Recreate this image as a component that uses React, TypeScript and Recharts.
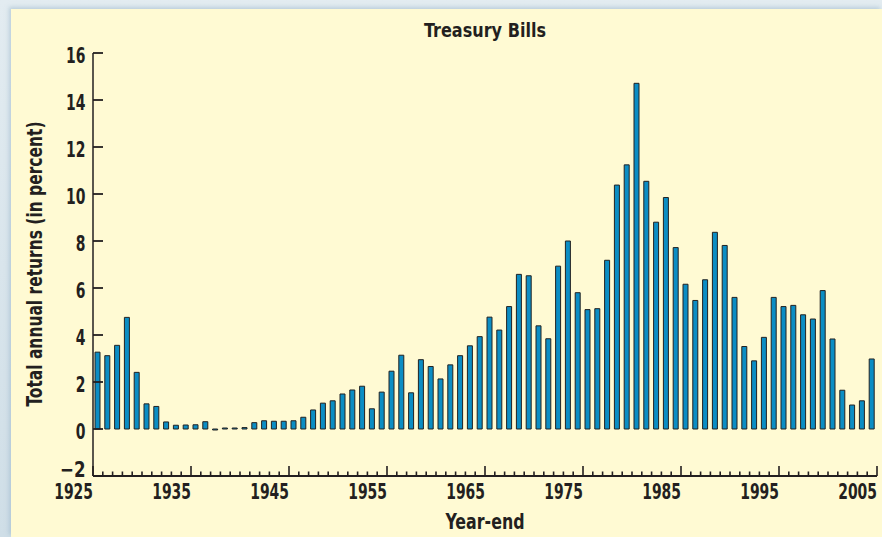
import { BarChart, Bar, XAxis, YAxis } from 'recharts';

const years = [
  1926, 1927, 1928, 1929, 1930, 1931, 1932, 1933, 1934, 1935,
  1936, 1937, 1938, 1939, 1940, 1941, 1942, 1943, 1944, 1945,
  1946, 1947, 1948, 1949, 1950, 1951, 1952, 1953, 1954, 1955,
  1956, 1957, 1958, 1959, 1960, 1961, 1962, 1963, 1964, 1965,
  1966, 1967, 1968, 1969, 1970, 1971, 1972, 1973, 1974, 1975,
  1976, 1977, 1978, 1979, 1980, 1981, 1982, 1983, 1984, 1985,
  1986, 1987, 1988, 1989, 1990, 1991, 1992, 1993, 1994, 1995,
  1996, 1997, 1998, 1999, 2000, 2001, 2002, 2003, 2004, 2005,
];

// total annual returns, percent
const tbillReturns = [
  3.27, 3.12, 3.56, 4.75, 2.41, 1.07, 0.96, 0.3, 0.16, 0.17,
  0.18, 0.31, -0.02, 0.02, 0.0, 0.06, 0.27, 0.35, 0.33, 0.33,
  0.35, 0.5, 0.81, 1.1, 1.2, 1.49, 1.66, 1.82, 0.86, 1.57,
  2.46, 3.14, 1.54, 2.95, 2.66, 2.13, 2.73, 3.12, 3.54, 3.93,
  4.76, 4.21, 5.21, 6.58, 6.52, 4.39, 3.84, 6.93, 8.0, 5.8,
  5.08, 5.12, 7.18, 10.38, 11.24, 14.71, 10.54, 8.8, 9.85, 7.72,
  6.16, 5.47, 6.35, 8.37, 7.81, 5.6, 3.51, 2.9, 3.9, 5.6,
  5.21, 5.26, 4.86, 4.68, 5.89, 3.83, 1.65, 1.02, 1.2, 2.98,
];

const yTicks = [-2, 0, 2, 4, 6, 8, 10, 12, 14, 16];
const decadeLabels = ['1925', '1935', '1945', '1955', '1965', '1975', '1985', '1995', '2005'];

const data = years.map((year, i) => ({ year, ret: tbillReturns[i] }));
// tick marks sit between the years, labels hang off the decade ticks
const yearEdges = [years[0] - 0.5, ...years.map((y) => y + 0.5)];

// no narrow font installed, so squeeze the text to the narrow widths of the original
const FONT = '"Liberation Sans Narrow", "Arial Narrow", "DejaVu Sans Condensed", "Roboto Condensed", sans-serif';
const INK = '#231f20';
const DIGIT_W = 9.7;

const XTick = (props: any) => {
  const { x, y, payload } = props;
  const label = String(payload.value - 0.5);
  const major = decadeLabels.includes(label);
  return (
    <g>
      <line x1={x} x2={x} y1={y} y2={y - (major ? 10 : 4.5)} stroke={INK} strokeWidth={1.6} />
      {major && (
        <text
          x={x}
          y={y + 23}
          textAnchor="end"
          textLength={label.length * DIGIT_W}
          lengthAdjust="spacingAndGlyphs"
          fontFamily={FONT}
          fontWeight="bold"
          fontSize={21}
          fill={INK}
        >
          {label}
        </text>
      )}
    </g>
  );
};

const YTick = (props: any) => {
  const { x, y, payload } = props;
  const v = payload.value;
  const label = v < 0 ? '\u2212' + Math.abs(v) : String(v);
  const w = v < 0 ? 25.5 : label.length * DIGIT_W;
  // the bottom label sits up on the axis line so it clears the year labels
  const dy = v === yTicks[0] ? 0.5 : 9.5;
  return (
    <g>
      <line x1={x} x2={x + 10} y1={y} y2={y} stroke={INK} strokeWidth={1.8} />
      <text
        x={x - 7.5}
        y={y + dy}
        textAnchor="end"
        textLength={w}
        lengthAdjust="spacingAndGlyphs"
        fontFamily={FONT}
        fontWeight="bold"
        fontSize={21}
        fill={INK}
      >
        {label}
      </text>
    </g>
  );
};

export default function App() {
  return (
    <div
      style={{
        position: 'absolute',
        left: 0,
        top: 0,
        width: 882,
        height: 537,
        overflow: 'hidden',
        background: 'linear-gradient(180deg, #e3ecf1 0%, #cfdee7 100%)',
      }}
    >
      <div
        style={{
          position: 'absolute',
          left: 11,
          top: 9,
          right: 0,
          bottom: 0,
          background: '#fffad3',
          boxShadow: '-2px -2px 4px rgba(150,180,200,0.5)',
        }}
      />
      <svg width={882} height={537} style={{ position: 'absolute', left: 0, top: 0 }}>
        <text
          x={485}
          y={37}
          textAnchor="middle"
          textLength={122}
          lengthAdjust="spacingAndGlyphs"
          fontFamily={FONT}
          fontWeight="bold"
          fontSize={20}
          fill={INK}
        >
          Treasury Bills
        </text>
        <text
          x={485}
          y={529}
          textAnchor="middle"
          textLength={79}
          lengthAdjust="spacingAndGlyphs"
          fontFamily={FONT}
          fontWeight="bold"
          fontSize={21}
          fill={INK}
        >
          Year-end
        </text>
        <text
          x={0}
          y={0}
          transform="translate(41.5 264) rotate(-90)"
          textAnchor="middle"
          textLength={285}
          lengthAdjust="spacingAndGlyphs"
          fontFamily={FONT}
          fontWeight="bold"
          fontSize={21}
          fill={INK}
        >
          Total annual returns (in percent)
        </text>
      </svg>
      <div style={{ position: 'absolute', left: 0, top: 0 }}>
        <BarChart width={882} height={537} data={data} margin={{ top: 53, right: 5, bottom: 31, left: 33 }}>
          <XAxis
            dataKey="year"
            type="number"
            domain={[yearEdges[0], yearEdges[yearEdges.length - 1]]}
            ticks={yearEdges}
            interval={0}
            height={30}
            tickSize={0}
            tickMargin={0}
            tickLine={false}
            axisLine={{ stroke: INK, strokeWidth: 2 }}
            tick={<XTick />}
          />
          <YAxis
            type="number"
            domain={[-2, 16]}
            ticks={yTicks}
            interval={0}
            width={60}
            tickSize={0}
            tickMargin={0}
            tickLine={false}
            axisLine={{ stroke: INK, strokeWidth: 1.5 }}
            tick={<YTick />}
          />
          <Bar
            dataKey="ret"
            fill="#0b8dc4"
            stroke="#222"
            strokeWidth={1}
            barSize={5}
            minPointSize={1}
            isAnimationActive={false}
          />
        </BarChart>
      </div>
    </div>
  );
}
